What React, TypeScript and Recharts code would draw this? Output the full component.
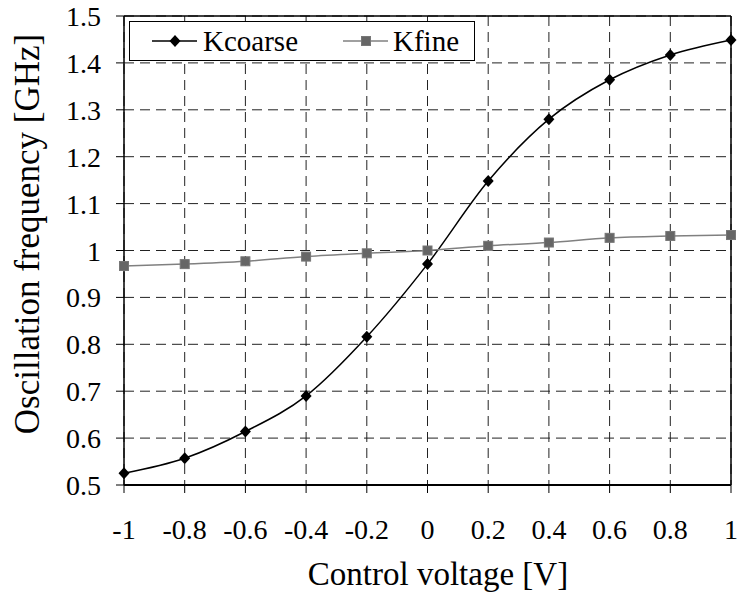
import { LineChart, Line, XAxis, YAxis, CartesianGrid, Legend, ReferenceLine, Label } from 'recharts';

// ─── Data ───────────────────────────────────────────────────────────────────
const voltages = [-1, -0.8, -0.6, -0.4, -0.2, 0, 0.2, 0.4, 0.6, 0.8, 1];
const kcoarse = [0.525, 0.557, 0.614, 0.69, 0.816, 0.971, 1.148, 1.28, 1.364, 1.417, 1.449];
const kfine = [0.967, 0.971, 0.977, 0.987, 0.994, 1.0, 1.01, 1.017, 1.027, 1.031, 1.033];
const xTicks = [-1, -0.8, -0.6, -0.4, -0.2, 0, 0.2, 0.4, 0.6, 0.8, 1];
const yTicks = [0.5, 0.6, 0.7, 0.8, 0.9, 1, 1.1, 1.2, 1.3, 1.4, 1.5];

const data = voltages.map((v, i) => ({ v, kcoarse: kcoarse[i], kfine: kfine[i] }));

const FONT = 'Liberation Serif';
const fmt = (n: number) => String(Number(n.toFixed(1)));
const txt = (size: number) => ({ fontFamily: FONT, fontSize: size, fill: '#000' });

const Diamond = (props: any) => {
  const { cx, cy } = props;
  if (cx == null || cy == null) return null;
  return <path d={`M${cx},${cy - 6}L${cx + 5.5},${cy}L${cx},${cy + 6}L${cx - 5.5},${cy}Z`} fill="#000" />;
};

const Square = (props: any) => {
  const { cx, cy } = props;
  if (cx == null || cy == null) return null;
  return <rect x={cx - 4.5} y={cy - 4.5} width={9} height={9} fill="#666" stroke="#777" strokeWidth={1} />;
};

const XTick = ({ x, y, payload }: any) => (
  <text x={x} y={y} dy={44} textAnchor="middle" style={txt(28)}>
    {fmt(payload.value)}
  </text>
);

const YTick = ({ x, y, payload }: any) => (
  <text x={x} y={y} dx={-13} dy={10} textAnchor="end" style={txt(28)}>
    {fmt(payload.value)}
  </text>
);

const LegendBox = () => (
  <div
    style={{
      width: 346,
      height: 40,
      border: '1px solid #000',
      background: '#fff',
      boxSizing: 'border-box',
      position: 'relative',
    }}
  >
    <svg width={344} height={38} style={{ position: 'absolute', left: 0, top: 0 }}>
      <line x1={22} x2={67} y1={19} y2={19} stroke="#000" strokeWidth={1.5} />
      <Diamond cx={45} cy={19} />
      <text x={73} y={29} style={txt(29)}>Kcoarse</text>
      <line x1={213} x2={258} y1={19} y2={19} stroke="#808080" strokeWidth={1.5} />
      <Square cx={236} cy={19} />
      <text x={263} y={29} style={txt(29)}>Kfine</text>
    </svg>
  </div>
);

export default function App() {
  return (
    <div style={{ position: 'absolute', left: 0, top: 0, background: '#fff' }}>
      <LineChart width={737} height={593} data={data} margin={{ top: 16, right: 6, left: 0, bottom: 0 }}>
        <CartesianGrid stroke="#222" strokeDasharray="10 6" strokeWidth={1} />
        <XAxis
          dataKey="v"
          type="number"
          domain={[-1, 1]}
          ticks={xTicks}
          height={108}
          tickSize={8}
          tick={<XTick />}
          axisLine={{ stroke: '#000', strokeWidth: 2 }}
          tickLine={{ stroke: '#000' }}
        >
          <Label
            content={() => (
              <text x={438} y={585} textAnchor="middle" style={txt(33)}>
                Control voltage [V]
              </text>
            )}
          />
        </XAxis>
        <YAxis
          type="number"
          domain={[0.5, 1.5]}
          ticks={yTicks}
          width={124}
          tickSize={8}
          tick={<YTick />}
          axisLine={{ stroke: '#000', strokeWidth: 1.5 }}
          tickLine={{ stroke: '#000' }}
        >
          <Label
            content={() => (
              <text x={0} y={0} transform="translate(39,234) rotate(-90)" textAnchor="middle" style={txt(35)}>
                Oscillation frequency [GHz]
              </text>
            )}
          />
        </YAxis>
        <ReferenceLine y={1.5} stroke="#000" strokeWidth={1.5} />
        <ReferenceLine x={1} stroke="#000" strokeWidth={1.5} />
        <Legend
          layout="vertical"
          align="center"
          verticalAlign="middle"
          wrapperStyle={{ left: 129, top: 21, width: 346, height: 40 }}
          content={() => <LegendBox />}
        />
        <Line
          type="monotone"
          dataKey="kcoarse"
          name="Kcoarse"
          stroke="#000"
          strokeWidth={1.5}
          dot={<Diamond />}
          isAnimationActive={false}
        />
        <Line
          type="monotone"
          dataKey="kfine"
          name="Kfine"
          stroke="#808080"
          strokeWidth={1.5}
          dot={<Square />}
          isAnimationActive={false}
        />
      </LineChart>
    </div>
  );
}
